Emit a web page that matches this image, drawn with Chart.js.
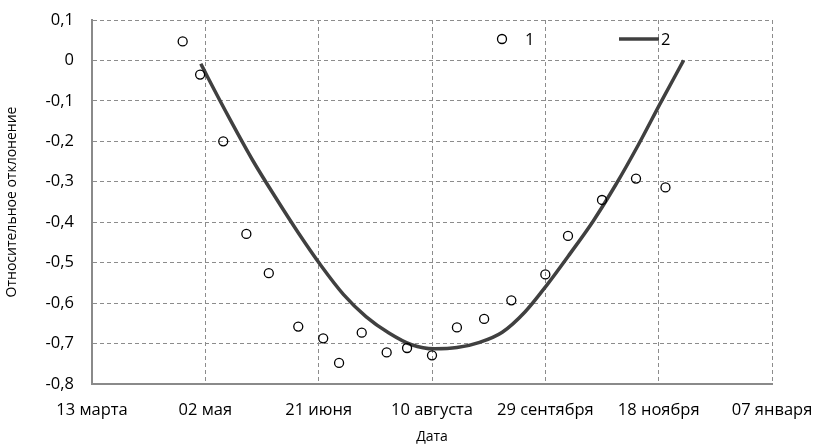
<!DOCTYPE html>
<html>
<head>
<meta charset="utf-8">
<script src="https://cdn.jsdelivr.net/npm/chart.js@4/dist/chart.umd.min.js"></script>
<style>
    html, body { margin: 0; padding: 0; background: #fff; }
    #wrap { width: 817px; height: 447px; }
</style>
</head>
<body>
<div id="wrap"><canvas id="chart"></canvas></div>
<script>
// days counted from 13 марта
const xTickLabels = ['13 марта', '02 мая', '21 июня', '10 августа', '29 сентября', '18 ноября', '07 января'];
const yTickLabels = ['-0,8', '-0,7', '-0,6', '-0,5', '-0,4', '-0,3', '-0,2', '-0,1', '0', '0,1'];

// series 1: measured points
const pointDays   = [40, 47.7, 57.9, 68.1, 78, 91, 102, 109, 119, 130, 139, 150, 161, 173, 185, 200, 210, 225, 240, 253];
const pointValues = [0.047, -0.035, -0.200, -0.429, -0.526, -0.658, -0.687, -0.748, -0.673, -0.722,
                     -0.711, -0.729, -0.660, -0.639, -0.593, -0.529, -0.434, -0.345, -0.292, -0.314];

// series 2: trend curve
const curveDays   = [48, 51, 61, 71, 81, 91, 101, 111, 121, 131, 141, 151, 161, 171, 181, 191, 201, 211, 221, 231, 241, 251, 261];
const curveValues = [-0.008, -0.041, -0.147, -0.248, -0.339, -0.426, -0.507, -0.579, -0.634, -0.674, -0.703, -0.713,
                     -0.710, -0.697, -0.672, -0.622, -0.553, -0.477, -0.398, -0.308, -0.209, -0.103, 0];

const toXY = (xs, ys) => {
    let out = [];
    for (let i = 0; i < xs.length; i++) {
        out.push({ x: xs[i], y: ys[i] });
    }
    return out;
}

const FONT = '"Open Sans", Lato, sans-serif';

// legend drawn inside the plot, like the original
const innerLegend = {
    id: 'innerLegend',
    afterDatasetsDraw(chart) {
        const ctx = chart.ctx;
        const a = chart.chartArea;
        const y = a.top + 19;
        const ds = chart.data.datasets;
        ctx.save();
        ctx.font = '16.5px ' + FONT;
        ctx.fillStyle = '#000';
        ctx.textBaseline = 'middle';
        // 1
        ctx.beginPath();
        ctx.arc(a.left + 410, y, 4.5, 0, Math.PI * 2);
        ctx.lineWidth = 1.3;
        ctx.strokeStyle = '#000';
        ctx.stroke();
        ctx.fillText(ds[0].label, a.left + 433, y + 1);
        // 2
        ctx.beginPath();
        ctx.moveTo(a.left + 527, y);
        ctx.lineTo(a.left + 567, y);
        ctx.lineWidth = 3.5;
        ctx.strokeStyle = '#404040';
        ctx.stroke();
        ctx.fillText(ds[1].label, a.left + 569, y + 1);
        ctx.restore();
    }
};

document.addEventListener("DOMContentLoaded", function () {
    const ctx = document.getElementById('chart');
    new Chart(ctx, {
        data: {
            datasets: [{
                type: 'scatter',
                label: '1',
                data: toXY(pointDays, pointValues),
                pointStyle: 'circle',
                pointRadius: 4.5,
                pointBorderWidth: 1.3,
                borderColor: '#000',
                backgroundColor: 'rgba(255,255,255,0)',
                order: 1
            }, {
                type: 'line',
                label: '2',
                data: toXY(curveDays, curveValues),
                borderColor: '#404040',
                borderWidth: 3.5,
                pointRadius: 0,
                fill: false,
                cubicInterpolationMode: 'monotone',
                order: 2
            }]
        },
        options: {
            responsive: true,
            maintainAspectRatio: false,
            animation: false,
            layout: { padding: { top: 20, right: 45, left: 0, bottom: 0 } },
            plugins: {
                legend: { display: false },
                tooltip: { enabled: false }
            },
            scales: {
                x: {
                    type: 'linear',
                    min: 0,
                    max: 300,
                    afterFit: (s) => { s.height = 63; s.paddingLeft = 0; s.paddingRight = 0; },
                    ticks: {
                        stepSize: 50,
                        padding: 16,
                        color: '#000',
                        font: { family: FONT, size: 16.5 },
                        maxRotation: 0,
                        callback: (v) => xTickLabels[Math.round(v / 50)]
                    },
                    grid: { color: '#8c8c8c', lineWidth: 1, drawTicks: false },
                    border: { display: true, color: '#8a8a8a', width: 2, dash: [4, 3] },
                    title: {
                        display: true,
                        text: 'Дата',
                        color: '#000',
                        font: { family: FONT, size: 14 },
                        padding: { top: 2, bottom: 2 }
                    }
                },
                y: {
                    min: -0.8,
                    max: 0.1,
                    afterFit: (s) => { s.width = 92; s.paddingTop = 0; s.paddingBottom = 0; },
                    ticks: {
                        stepSize: 0.1,
                        padding: 18,
                        color: '#000',
                        font: { family: FONT, size: 16.5 },
                        callback: (v) => yTickLabels[Math.round((v + 0.8) * 10)]
                    },
                    grid: { color: '#8c8c8c', lineWidth: 1, drawTicks: false },
                    border: { display: true, color: '#8a8a8a', width: 2, dash: [4, 3] },
                    title: {
                        display: true,
                        text: 'Относительное отклонение',
                        color: '#000',
                        font: { family: FONT, size: 14 },
                        padding: { top: 4, bottom: 4 }
                    }
                }
            }
        },
        plugins: [innerLegend]
    });
});
</script>
</body>
</html>
